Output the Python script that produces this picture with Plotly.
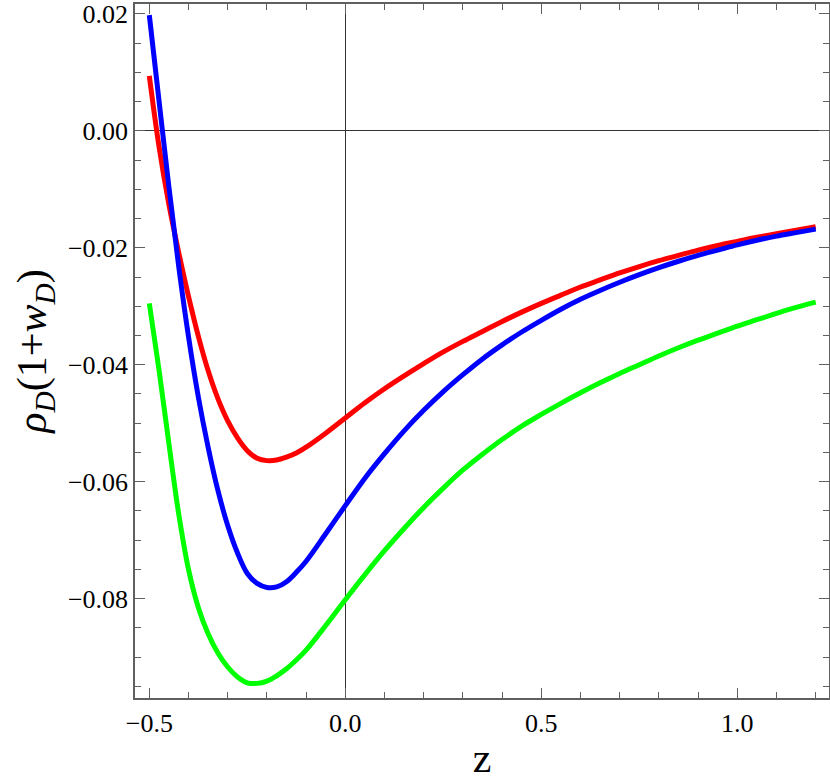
import plotly.graph_objects as go

# redshift grid
z = [-0.5, -0.475, -0.45, -0.425, -0.4, -0.375, -0.35, -0.325, -0.3, -0.275, -0.25, -0.225,
     -0.2, -0.175, -0.15, -0.125, -0.1, -0.05, 0.0, 0.05, 0.1, 0.15, 0.2, 0.25, 0.3, 0.35, 0.4, 0.45,
     0.5, 0.55, 0.6, 0.65, 0.7, 0.75, 0.8, 0.85, 0.9, 0.95, 1.0, 1.05, 1.1, 1.15, 1.2]

# rho_D (1 + w_D) for the three cases
red = [0.0094, -0.0028, -0.0126, -0.0208, -0.0283, -0.0351, -0.0410, -0.0458, -0.0496, -0.0525, -0.0547, -0.0560,
       -0.0564, -0.0563, -0.0558, -0.0551, -0.0541, -0.0517, -0.0491, -0.0465, -0.0441, -0.0419, -0.0398, -0.0378,
       -0.0360, -0.0343, -0.0326, -0.0310, -0.0295, -0.0281, -0.0267, -0.0255, -0.0243, -0.0232, -0.0222, -0.0213,
       -0.0204, -0.0196, -0.0189, -0.0182, -0.0176, -0.0170, -0.0164]
blue = [0.0198, 0.0050, -0.0096, -0.0232, -0.0352, -0.0455, -0.0541, -0.0615, -0.0675, -0.0722, -0.0757, -0.0774,
        -0.0781, -0.0780, -0.0771, -0.0755, -0.0736, -0.0689, -0.0641, -0.0594, -0.0552, -0.0513, -0.0478, -0.0446,
        -0.0417, -0.0390, -0.0366, -0.0344, -0.0324, -0.0305, -0.0288, -0.0273, -0.0259, -0.0246, -0.0234, -0.0223,
        -0.0213, -0.0204, -0.0195, -0.0187, -0.0180, -0.0174, -0.0168]
green = [-0.0295, -0.0410, -0.0535, -0.0655, -0.0750, -0.0815, -0.0860, -0.0893, -0.0917, -0.0934, -0.0944, -0.0945,
         -0.0941, -0.0932, -0.0920, -0.0905, -0.0888, -0.0846, -0.0802, -0.0759, -0.0718, -0.0680, -0.0644, -0.0611,
         -0.0580, -0.0553, -0.0528, -0.0505, -0.0485, -0.0466, -0.0448, -0.0431, -0.0415, -0.0400, -0.0385, -0.0371,
         -0.0358, -0.0346, -0.0334, -0.0323, -0.0312, -0.0302, -0.0293]

fig = go.Figure()
for ys, col in [(green, '#00FF00'), (red, '#FF0000'), (blue, '#0000FF')]:
    fig.add_trace(go.Scatter(x=z, y=ys, mode='lines', line=dict(color=col, width=5, shape='spline', smoothing=1),
                             showlegend=False, hoverinfo='skip'))

serif = 'Liberation Serif, Times New Roman, Times, serif'
frame = '#606060'
fig.update_layout(
    width=830, height=781,
    margin=dict(l=135, r=1, t=4, b=83),
    plot_bgcolor='white', paper_bgcolor='white',
    font=dict(family=serif, color='black', size=26),
    xaxis=dict(
        range=[-0.5365, 1.2339], showgrid=False, automargin=False,
        tickvals=[-0.5, 0.0, 0.5, 1.0], tickformat='.1f',
        tickfont=dict(family=serif, size=26),
        ticks='inside', ticklen=10, tickcolor=frame, tickwidth=1,
        minor=dict(dtick=0.1, tick0=0, ticks='inside', ticklen=6, tickcolor=frame, tickwidth=1, showgrid=False),
        showline=True, linecolor=frame, linewidth=1.5, mirror='allticks',
        zeroline=True, zerolinecolor='#333333', zerolinewidth=1,
        ticklabelstandoff=1,
        title=dict(text='z', font=dict(family=serif, size=42), standoff=23),
    ),
    yaxis=dict(
        range=[-0.0970, 0.0217], showgrid=False, automargin=False,
        tickvals=[0.02, 0.0, -0.02, -0.04, -0.06, -0.08], tickformat='.2f',
        tickfont=dict(family=serif, size=26),
        ticks='inside', ticklen=10, tickcolor=frame, tickwidth=1,
        minor=dict(dtick=0.005, tick0=0, ticks='inside', ticklen=6, tickcolor=frame, tickwidth=1, showgrid=False),
        showline=True, linecolor=frame, linewidth=1.5, mirror='allticks',
        zeroline=True, zerolinecolor='#333333', zerolinewidth=1,
        ticklabelstandoff=0,
        title=dict(text='<i>ρ</i><sub><i>D</i></sub>(1+<i>w</i><sub><i>D</i></sub>)',
                   font=dict(family=serif, size=42), standoff=8),
    ),
)

# page has an 8px default body margin; drop it so the figure sits at the corner
fig.write_html("out.html", config={'displayModeBar': False},
               post_script="document.body.style.margin='0px';")
